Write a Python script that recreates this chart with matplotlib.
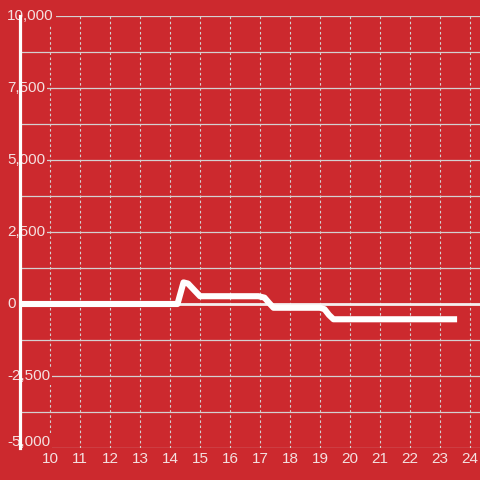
import matplotlib
matplotlib.use('Agg')
import matplotlib.pyplot as plt
import matplotlib.transforms as mtransforms
from matplotlib.ticker import MultipleLocator

from matplotlib import rcParams
rcParams['font.family'] = ['Liberation Sans', 'DejaVu Sans']

# values
hours = [9.0, 14.25, 14.45, 14.6, 15.0, 16.95, 17.15, 17.3, 17.45,
         19.0, 19.15, 19.3, 19.45, 23.57]
values = [0, 0, 750, 710, 270, 270, 220, 40, -130,
          -130, -180, -380, -530, -530]

x_ticks = list(range(10, 25))
y_ticks = [-5000, -2500, 0, 2500, 5000, 7500, 10000]

bg = '#cc292e'
grid_col = '#d4d0d0'
label_col = '#f4e0e0'

fig = plt.figure(figsize=(4.8, 4.8), dpi=100)
fig.patch.set_facecolor(bg)
ax = fig.add_axes([20/480, 32/480, 460/480, 432/480])
ax.set_facecolor(bg)

ax.set_xlim(9, 9 + 460/30)
ax.set_ylim(-5000, 10000)

ax.set_xticks(x_ticks)
ax.set_yticks(y_ticks)
ax.yaxis.set_minor_locator(MultipleLocator(1250))
ax.set_yticklabels([])

# grid: solid horizontal, dotted vertical
ax.grid(axis='y', which='both', color=grid_col, lw=0.9, ls='-')
ax.grid(axis='x', which='major', color=grid_col, lw=0.8, ls=(0, (2.3, 2.3)))

ax.tick_params(axis='both', which='both', length=0, labelsize=11,
               labelcolor=label_col)
ax.tick_params(axis='x', pad=3)

# y labels sit left-aligned across the axis line; bottom one nudged up
trans = mtransforms.blended_transform_factory(ax.transAxes, ax.transData)
for v in y_ticks:
    t = trans
    if v == min(y_ticks):
        t = trans + mtransforms.ScaledTranslation(0, 6/100, fig.dpi_scale_trans)
    ax.text(-13/460, v, f'{v:,.0f}', transform=t, ha='left', va='center',
            fontsize=11, color=label_col, zorder=2.4, clip_on=False,
            bbox=dict(facecolor=bg, edgecolor='none', pad=1.5))

for s in ['top', 'right', 'bottom']:
    ax.spines[s].set_visible(False)
ax.spines['left'].set_color('white')
ax.spines['left'].set_linewidth(2.3)
ax.spines['left'].set_zorder(2.5)

ax.axhline(0, color='#f4eeee', lw=2.0, zorder=2)
ax.plot(hours, values, color='white', lw=4.4, solid_capstyle='butt',
        solid_joinstyle='round', zorder=3)

plt.savefig('out.png', dpi=100, facecolor=bg)
